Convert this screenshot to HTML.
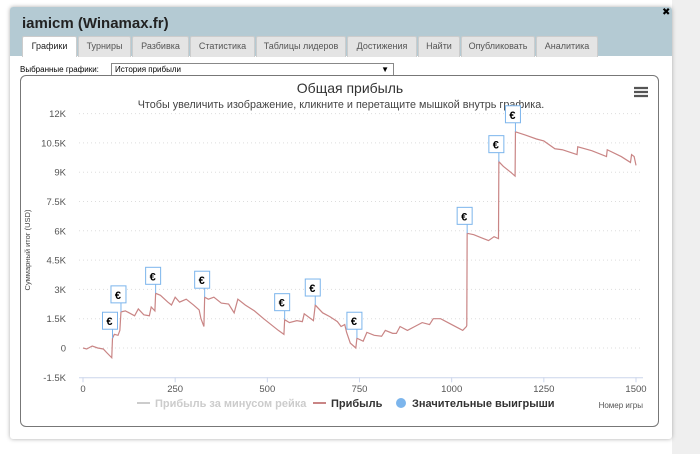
<!DOCTYPE html>
<html><head><meta charset="utf-8"><style>
body{margin:0;width:700px;height:454px;background:#fff;font-family:"Liberation Sans","DejaVu Sans",sans-serif;position:relative;overflow:hidden}
.bg{position:absolute;left:672px;top:0;width:28px;height:454px;background:#efefef}
.dlg{position:absolute;left:10px;top:7px;width:662px;height:432px;background:#fff;box-shadow:0 0 4px #aaa;border-radius:3px}
.hdr{position:absolute;left:0;top:0;width:662px;height:49px;background:#b4cad3;border-radius:3px 3px 0 0}
.ttl{position:absolute;left:12px;top:8px;font-size:15px;font-weight:bold;color:#222}
.close{position:absolute;left:652px;top:0;font-size:10px;font-weight:bold}
.tab{position:absolute;top:29px;height:20px;background:#e4e4e4;border:1px solid #ccc;border-bottom:none;font-size:9px;color:#555;text-align:center;line-height:19px;border-radius:2px 2px 0 0}
.tab.on{background:#fff;color:#222}
.sel-l{position:absolute;left:10px;top:58px;font-size:8px}
.sel{position:absolute;left:101px;top:56px;width:278px;height:11px;border:1px solid #888;font-size:8px;padding-left:3px;line-height:11px}
.box{position:absolute;left:10px;top:68px;width:637px;height:350px;border:1px solid #777;border-radius:6px}
</style></head><body>
<div class="bg"></div>
<div class="dlg">
<div class="hdr"></div>
<div class="ttl">iamicm (Winamax.fr)</div>
<div class="close">✖</div>
<div class="tab on" style="left:12px;width:53px">Графики</div>
<div class="tab" style="left:68px;width:51px">Турниры</div>
<div class="tab" style="left:122px;width:55px">Разбивка</div>
<div class="tab" style="left:180px;width:63px">Статистика</div>
<div class="tab" style="left:246px;width:88px">Таблицы лидеров</div>
<div class="tab" style="left:337px;width:68px">Достижения</div>
<div class="tab" style="left:408px;width:40px">Найти</div>
<div class="tab" style="left:451px;width:72px">Опубликовать</div>
<div class="tab" style="left:526px;width:60px">Аналитика</div>
<div class="sel-l">Выбранные графики:</div>
<div class="sel">История прибыли<span style="position:absolute;right:4px;font-size:8px">▼</span></div>
<div class="box"></div>
</div>
<svg id="c" width="700" height="454" style="position:absolute;left:0;top:0" font-family="Liberation Sans, DejaVu Sans, sans-serif"></svg>
<script>
const games=[0,10,20,25,40,55,65,78,80,85,95,100,103,115,130,140,150,165,180,185,195,197,210,230,240,250,262,280,300,315,320,328,330,340,355,375,395,410,420,440,465,490,510,530,545,547,560,580,595,600,625,630,650,670,690,700,710,715,725,740,743,760,770,790,810,820,840,850,860,880,900,920,940,950,970,1000,1020,1030,1040,1041,1042,1060,1080,1100,1115,1127,1128,1140,1160,1172,1173,1200,1230,1250,1280,1300,1340,1342,1380,1420,1422,1460,1485,1488,1495,1500];
const profit=[0,-50,50,100,0,-50,-250,-500,500,700,650,900,1850,1900,1750,1650,2000,1700,1650,2100,1900,2800,2700,2350,2200,2600,2350,2500,2200,1950,1500,1100,2600,2500,2600,2300,2250,1800,2500,2200,1900,1500,1200,900,700,1450,1300,1400,1350,1750,1400,2200,1800,1600,1350,1100,1200,800,250,0,500,350,800,650,600,900,750,750,1100,900,1100,1300,1200,1500,1500,1200,1000,900,1100,1150,5870,5800,5650,5500,5700,5600,9540,9300,9000,8800,11070,10900,10700,10600,10200,10150,9900,10300,10100,9800,10150,9800,9500,9900,9800,9350];
const bigWins=[80,103,197,330,547,630,743,1042,1128,1173];
const yTicks=[-1500,0,1500,3000,4500,6000,7500,9000,10500,12000];
const yLabels=["-1.5K","0","1.5K","3K","4.5K","6K","7.5K","9K","10.5K","12K"];
const xTicks=[0,250,500,750,1000,1250,1500];
const svg=document.getElementById('c');
const NS='http://www.w3.org/2000/svg';
const X=g=>83+g*553/1500, Y=v=>348-v*0.019533;
function mk(t,a,txt){const e=document.createElementNS(NS,t);for(const k in a)e.setAttribute(k,a[k]);if(txt!==undefined)e.textContent=txt;svg.appendChild(e);return e;}
let e;
e=mk('text',{x:350,y:93,'text-anchor':'middle','font-size':14,fill:'#333'},'Общая прибыль');


e=mk('text',{x:341,y:108,'text-anchor':'middle','font-size':10.8,fill:'#444'},'Чтобы увеличить изображение, кликните и перетащите мышкой внутрь графика.');


e=mk('path',{d:'M634 88h14M634 92h14M634 96h14',stroke:'#555','stroke-width':2.2});


yTicks.forEach((v,i)=>{
 if(v!==-1500){e=mk('line',{x1:79,x2:640,y1:Y(v),y2:Y(v),stroke:'#ddd','stroke-dasharray':'1,3'});
 
 }
 e=mk('text',{x:66,y:Y(v)+3.5,'text-anchor':'end','font-size':9.5,fill:'#555'},yLabels[i]);
 
 
});
e=mk('line',{x1:79,x2:643,y1:Y(-1500)+0.5,y2:Y(-1500)+0.5,stroke:'#ccd6eb'});


xTicks.forEach(g=>{
 e=mk('line',{x1:X(g),x2:X(g),y1:Y(-1500),y2:Y(-1500)+5,stroke:'#ccd6eb'});
 
 
 e=mk('text',{x:X(g),y:392,'text-anchor':'middle','font-size':9.5,fill:'#555'},String(g));
 
 
});
e=mk('text',{x:30,y:250,'text-anchor':'middle','font-size':7.5,fill:'#444',transform:'rotate(-90 30 250)'},'Суммарный итог (USD)');


e=mk('text',{x:643,y:408,'text-anchor':'end','font-size':8,fill:'#555'},'Номер игры');


e=mk('polyline',{points:games.map((g,i)=>X(g)+','+Y(profit[i])).join(' '),fill:'none',stroke:'#c98585','stroke-width':1.2});


function valAt(g){let i=games.indexOf(g);if(i<0)return 0;return profit[i];}
bigWins.forEach(g=>{
 const px=X(g),py=Y(valAt(g)),top=py-26;
 e=mk('line',{x1:px,x2:px,y1:top+17,y2:py,stroke:'#7cb5ec'});
 
 
 e=mk('rect',{x:px-10,y:top,width:15,height:17,fill:'#fff',stroke:'#7cb5ec'});
 
 
 e=mk('text',{x:px-3,y:top+13,'text-anchor':'middle','font-size':11,'font-weight':'bold',fill:'#000'},'€');
 
 
});
e=mk('line',{x1:137,x2:150,y1:403,y2:403,stroke:'#ccc','stroke-width':2});


e=mk('text',{x:155,y:407,'font-size':11,'font-weight':'bold',fill:'#ccc'},'Прибыль за минусом рейка');


e=mk('line',{x1:313,x2:326,y1:403,y2:403,stroke:'#c98585','stroke-width':2});


e=mk('text',{x:331,y:407,'font-size':11,'font-weight':'bold',fill:'#333'},'Прибыль');


e=mk('circle',{cx:401,cy:403,r:5,fill:'#7cb5ec'});


e=mk('text',{x:412,y:407,'font-size':11,'font-weight':'bold',fill:'#333'},'Значительные выигрыши');


</script>
</body></html>
